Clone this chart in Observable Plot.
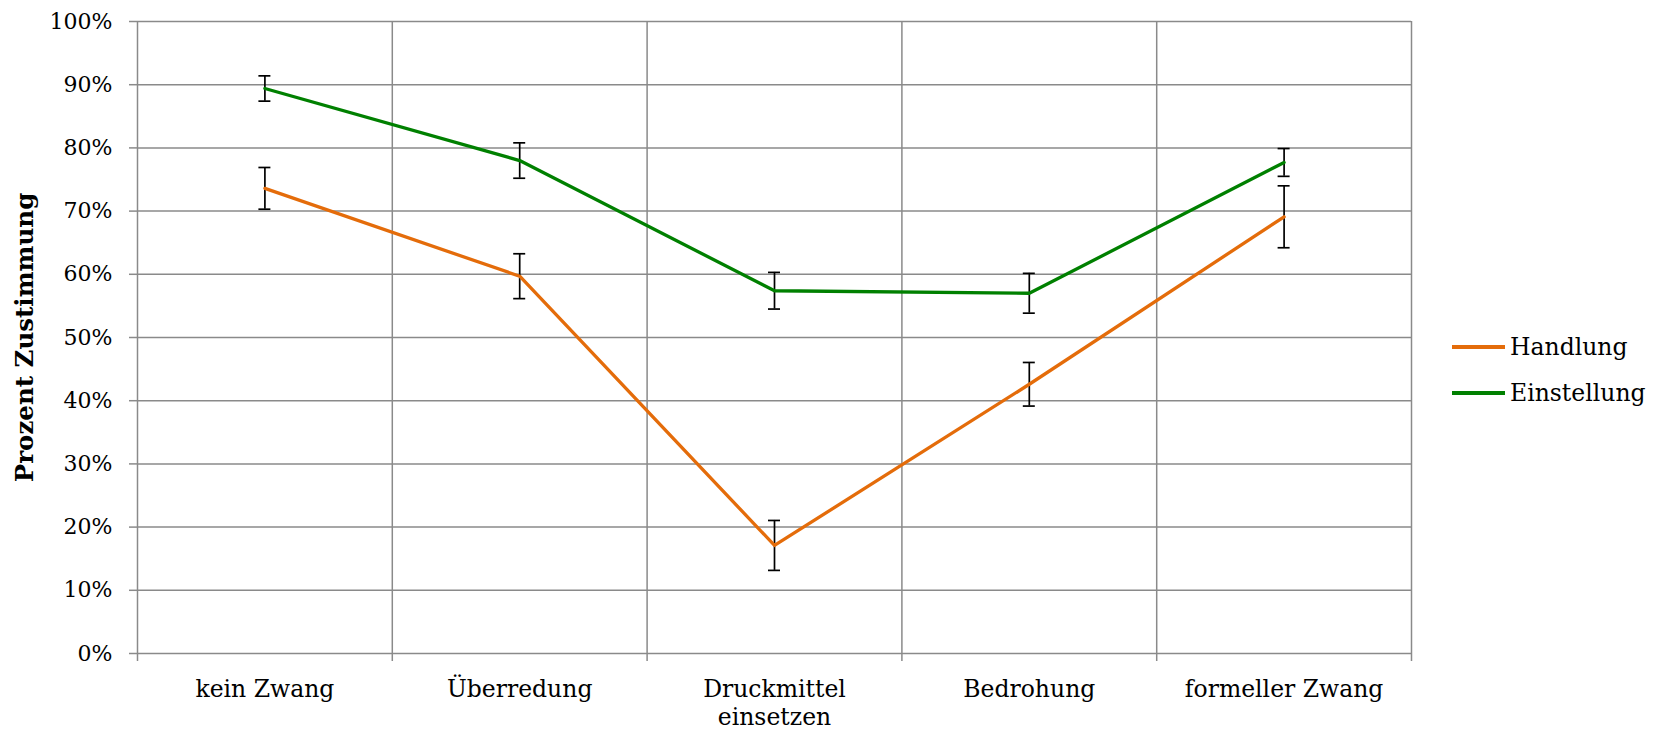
<!DOCTYPE html>
<html><head><meta charset="utf-8">
<script src="https://cdn.jsdelivr.net/npm/d3@7"></script>
<script src="https://cdn.jsdelivr.net/npm/@observablehq/plot@0.6"></script>
<style>
body{margin:0;background:#fff;}
#wrap{position:relative;width:1662px;height:730px;font-family:"DejaVu Serif",serif;}
#legend{position:absolute;left:1452px;top:324px;font-size:23.5px;color:#000;}
#legend .row{display:flex;align-items:center;height:46px;}
#legend .sw{display:inline-block;width:53px;height:3.5px;margin-right:5px;}
</style>
</head><body><div id="wrap"></div>
<script>
const categories = ["kein Zwang", "Überredung", "Druckmittel\neinsetzen", "Bedrohung", "formeller Zwang"];
const series = ["Handlung", "Einstellung"];
const colors = ["#E46C0A", "#008000"];
const handlung = [0.736, 0.597, 0.171, 0.426, 0.691];
const handlungErr = [0.033, 0.0355, 0.0395, 0.0345, 0.049];
const einstellung = [0.894, 0.780, 0.574, 0.570, 0.777];
const einstellungErr = [0.020, 0.028, 0.029, 0.0315, 0.022];
const yTicks = [0, 0.1, 0.2, 0.3, 0.4, 0.5, 0.6, 0.7, 0.8, 0.9, 1.0];
const yLabel = "Prozent Zustimmung";

const values = [handlung, einstellung];
const errs = [handlungErr, einstellungErr];
const rows = [];
series.forEach((s, si) => categories.forEach((c, i) => rows.push({series: s, i, value: values[si][i], err: errs[si][i]})));
const bounds = d3.range(categories.length + 1);
const centers = categories.map((c, i) => i + 0.5);
const grid = "#8a8a8a";

const chart = Plot.plot({
  width: 1662, height: 730,
  marginLeft: 137, marginRight: 251, marginTop: 21, marginBottom: 77,
  style: {fontFamily: "DejaVu Serif", fontSize: "22px", color: "#000", background: "#fff"},
  x: {type: "linear", domain: [0, categories.length], axis: null},
  y: {domain: [0, 1], axis: null},
  color: {domain: series, range: colors},
  marks: [
    Plot.gridY(yTicks, {stroke: grid, strokeOpacity: 1, strokeWidth: 1.5}),
    Plot.gridX(bounds, {stroke: grid, strokeOpacity: 1, strokeWidth: 1.5}),
    Plot.axisY(yTicks, {tickFormat: d => Math.round(d * 100) + "%", tickSize: 8, tickPadding: 17, stroke: grid, strokeWidth: 1.5, label: null, fontSize: 22}),
    Plot.axisX(bounds, {tickFormat: () => "", tickSize: 8, stroke: grid, strokeWidth: 1.5, label: null}),
    Plot.axisX(centers, {tickFormat: d => categories[Math.round(d - 0.5)], tickSize: 0, tickPadding: 23.5, label: null, fontSize: 23.5, lineHeight: 1.2}),
    Plot.text([yLabel], {frameAnchor: "left", textAnchor: "middle", rotate: -90, dx: -112, fontWeight: "bold", fontSize: 24.5}),
    Plot.ruleX(rows, {x: d => d.i + 0.5, y1: d => d.value - d.err, y2: d => d.value + d.err, stroke: "black", strokeWidth: 1.7}),
    Plot.ruleY(rows, {x1: d => d.i + 0.5, x2: d => d.i + 0.5, y: d => d.value + d.err, insetLeft: -6, insetRight: -6, stroke: "black", strokeWidth: 1.7}),
    Plot.ruleY(rows, {x1: d => d.i + 0.5, x2: d => d.i + 0.5, y: d => d.value - d.err, insetLeft: -6, insetRight: -6, stroke: "black", strokeWidth: 1.7}),
    Plot.line(rows, {x: d => d.i + 0.5, y: "value", stroke: "series", z: "series", strokeWidth: 3.3})
  ]
});
const wrap = document.getElementById("wrap");
wrap.appendChild(chart);
const legend = document.createElement("div");
legend.id = "legend";
series.forEach((s, i) => {
  const row = document.createElement("div");
  row.className = "row";
  const sw = document.createElement("span");
  sw.className = "sw";
  sw.style.background = colors[i];
  row.appendChild(sw);
  row.appendChild(document.createTextNode(s));
  legend.appendChild(row);
});
wrap.appendChild(legend);
</script>
</body></html>
